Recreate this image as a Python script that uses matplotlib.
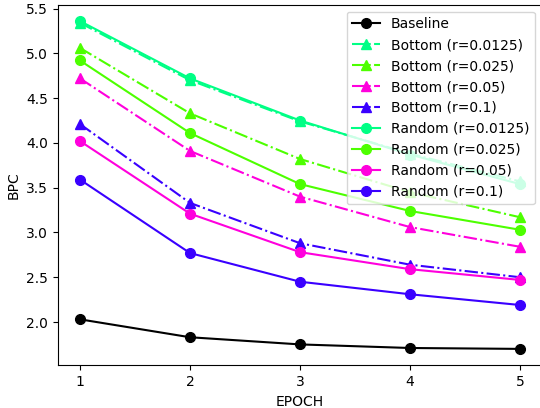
import matplotlib
matplotlib.use("Agg")
import matplotlib.pyplot as plt

epochs = [1, 2, 3, 4, 5]
baseline = [2.03, 1.83, 1.75, 1.71, 1.70]

bottom_labels = ["Bottom (r=0.0125)", "Bottom (r=0.025)", "Bottom (r=0.05)", "Bottom (r=0.1)"]
bottom_0125 = [5.34, 4.70, 4.24, 3.88, 3.57]
bottom_025 = [5.06, 4.33, 3.82, 3.45, 3.17]
bottom_05 = [4.72, 3.91, 3.40, 3.06, 2.84]
bottom_1 = [4.21, 3.33, 2.88, 2.64, 2.50]

random_labels = ["Random (r=0.0125)", "Random (r=0.025)", "Random (r=0.05)", "Random (r=0.1)"]
random_0125 = [5.36, 4.72, 4.25, 3.87, 3.54]
random_025 = [4.92, 4.11, 3.54, 3.24, 3.03]
random_05 = [4.02, 3.21, 2.78, 2.59, 2.47]
random_1 = [3.59, 2.77, 2.45, 2.31, 2.19]

colors = ["#00FF85", "#4DFF00", "#FF00DD", "#3A00FF"]

fig = plt.figure(figsize=(5.4, 4.08), dpi=100)
ax = fig.add_axes([0.1074, 0.1047, 0.8963, 0.8838])

ax.plot(epochs, baseline, color="black", marker="o", markersize=7, label="Baseline")
for vals, lab, c in zip([bottom_0125, bottom_025, bottom_05, bottom_1], bottom_labels, colors):
    ax.plot(epochs, vals, color=c, marker="^", markersize=7, linestyle="-.", label=lab)
for vals, lab, c in zip([random_0125, random_025, random_05, random_1], random_labels, colors):
    ax.plot(epochs, vals, color=c, marker="o", markersize=7, linestyle="-", label=lab)

ax.set_xticks(epochs)
ax.set_xlabel("EPOCH")
ax.set_ylabel("BPC")
ax.legend(loc="upper right")

fig.savefig("out.png", dpi=100)
